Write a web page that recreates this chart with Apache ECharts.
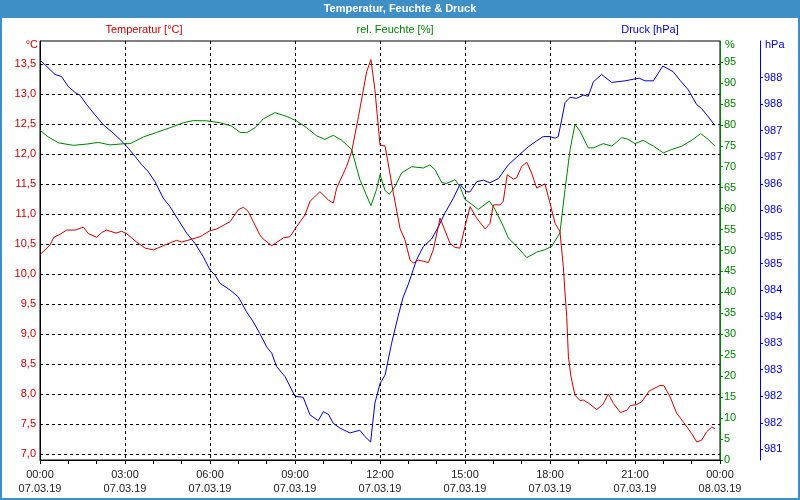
<!DOCTYPE html>
<html>
<head>
<meta charset="utf-8">
<script src="https://cdn.jsdelivr.net/npm/echarts@6/dist/echarts.min.js"></script>
<style>
html,body{margin:0;padding:0;background:#fff;}
#chart{width:800px;height:500px;}
</style>
</head>
<body>
<div id="chart"></div>
<script>
// ---- data ----
var xTimeLabels = ['00:00','03:00','06:00','09:00','12:00','15:00','18:00','21:00','00:00'];
var xDateLabels = ['07.03.19','07.03.19','07.03.19','07.03.19','07.03.19','07.03.19','07.03.19','07.03.19','08.03.19'];
var tempTicks = [7.0,7.5,8.0,8.5,9.0,9.5,10.0,10.5,11.0,11.5,12.0,12.5,13.0,13.5];
var pressTicks = [981,981.5,982,982.5,983,983.5,984,984.5,985,985.5,986,986.5,987,987.5,988];

var tempHours = [0,0.35,0.49,0.71,0.94,1.24,1.53,1.71,2.0,2.18,2.35,2.68,2.88,3.06,3.41,3.71,4.0,4.35,4.82,5.0,5.29,5.65,6.0,6.24,6.71,7.0,7.18,7.35,7.53,7.76,7.88,8.18,8.59,8.82,9.06,9.35,9.53,9.88,10.18,10.35,10.47,10.82,11.0,11.24,11.53,11.68,11.82,12.0,12.18,12.47,12.71,12.88,13.06,13.18,13.35,13.53,13.71,13.88,14.12,14.47,14.65,14.82,15.0,15.18,15.41,15.71,15.88,16.0,16.24,16.35,16.49,16.71,16.82,17.0,17.18,17.35,17.53,17.82,18.0,18.18,18.35,18.47,18.53,18.59,18.65,18.74,18.88,19.06,19.18,19.41,19.65,19.86,20.06,20.24,20.49,20.71,20.85,21.04,21.24,21.5,21.88,22.02,22.24,22.47,22.71,23.0,23.18,23.35,23.53,23.71,23.82];
var tempValues = [10.32,10.48,10.61,10.66,10.73,10.73,10.78,10.67,10.61,10.69,10.73,10.68,10.71,10.67,10.53,10.43,10.40,10.47,10.56,10.53,10.57,10.62,10.72,10.75,10.87,11.07,11.11,11.04,10.87,10.65,10.58,10.47,10.60,10.62,10.79,10.98,11.21,11.37,11.23,11.18,11.43,11.79,12.04,12.62,13.37,13.57,13.07,12.15,12.13,11.35,10.75,10.57,10.23,10.18,10.23,10.21,10.19,10.40,10.93,10.51,10.44,10.43,10.79,11.12,10.93,10.75,10.84,11.15,11.15,11.21,11.65,11.58,11.60,11.79,11.86,11.68,11.43,11.50,11.18,10.84,10.71,10.12,9.68,9.29,8.62,8.29,7.98,7.89,7.90,7.83,7.74,7.82,8.00,7.84,7.69,7.73,7.81,7.82,7.87,8.05,8.14,8.14,7.95,7.68,7.53,7.34,7.20,7.23,7.37,7.45,7.42];

var humHours = [0,0.29,0.65,1.18,1.65,2.06,2.47,3.0,3.18,3.65,4.12,4.59,5.06,5.41,5.88,6.35,6.76,7.06,7.29,7.59,7.88,8.29,8.71,9.06,9.41,9.76,10.06,10.35,10.65,11.0,11.29,11.68,11.88,12.0,12.18,12.33,12.53,12.76,13.12,13.53,13.76,13.94,14.18,14.35,14.65,14.82,15.0,15.24,15.47,15.86,16.06,16.35,16.53,16.82,17.18,17.53,17.82,18.06,18.35,18.53,18.71,18.88,19.06,19.35,19.53,19.88,20.18,20.53,20.71,21.0,21.29,21.65,22.0,22.29,22.65,23.0,23.32,23.59,23.82];
var humValues = [78.7,77.1,75.7,75.1,75.4,75.8,75.2,75.5,75.5,77.1,78.2,79.3,80.5,81.0,80.95,80.5,79.7,78.2,78.1,79.3,81.4,82.9,82.0,80.9,79.3,77.4,76.5,77.5,76.3,74.1,66.9,60.7,64.6,68.1,64.3,63.4,65.3,68.5,70.0,69.7,70.4,69.3,66.2,66.0,66.9,65.3,62.2,61.0,59.8,61.8,59.8,55.8,53.0,51.0,48.3,49.6,50.2,51.0,54.2,64.6,74.1,80.1,78.5,74.5,74.5,75.5,74.9,76.9,76.7,75.5,76.3,74.9,73.3,74.1,74.9,76.3,77.9,76.5,74.9];

var pressHours = [0,0.24,0.53,0.76,1.0,1.24,1.41,1.65,1.94,2.24,2.53,2.82,3.12,3.35,3.59,3.82,4.06,4.35,4.59,4.88,5.18,5.47,5.76,6.0,6.18,6.35,6.71,7.0,7.29,7.53,7.76,8.0,8.18,8.35,8.65,9.0,9.29,9.53,9.82,10.0,10.18,10.35,10.59,10.94,11.29,11.47,11.67,11.82,12.0,12.18,12.41,12.65,12.82,13.0,13.29,13.53,13.82,14.06,14.29,14.59,14.82,15.06,15.18,15.41,15.65,15.88,16.18,16.53,16.82,17.24,17.53,17.76,18.0,18.18,18.29,18.41,18.53,18.71,18.94,19.18,19.35,19.53,19.82,20.18,20.65,20.94,21.15,21.35,21.65,21.98,22.35,22.59,22.88,23.18,23.35,23.59,23.82];
var pressValues = [988.33,988.21,988.06,988.02,987.83,987.72,987.67,987.49,987.30,987.11,986.98,986.84,986.67,986.52,986.36,986.23,986.04,985.73,985.57,985.32,985.07,984.88,984.63,984.38,984.28,984.13,984.00,983.87,983.59,983.40,983.18,982.93,982.81,982.56,982.37,982.00,981.98,981.65,981.54,981.71,981.66,981.49,981.40,981.31,981.36,981.24,981.14,981.87,982.24,982.40,983.00,983.53,983.87,984.11,984.57,984.82,984.96,985.19,985.45,985.73,985.99,985.85,985.85,986.04,986.07,986.02,986.10,986.36,986.50,986.70,986.81,986.89,986.89,986.86,986.89,987.20,987.53,987.63,987.61,987.67,987.65,987.92,988.06,987.91,987.94,987.97,987.99,987.94,987.94,988.22,988.11,987.95,987.77,987.49,987.42,987.26,987.10];

function zip(a, b) { return a.map(function (v, i) { return [v, b[i]]; }); }

var FONT = 'Liberation Sans';
var RED = '#cc0000', GREEN = '#008000', BLUE = '#0000cc', BAR = '#3d8fc6';
var dash = { color: '#000', type: [3, 3], width: 1 };

var chart = echarts.init(document.getElementById('chart'), null, { renderer: 'canvas' });
chart.setOption({
  animation: false,
  backgroundColor: '#ffffff',
  textStyle: { fontFamily: FONT },
  grid: { left: 40, right: 80, top: 41, bottom: 40, show: true, borderColor: '#000', borderWidth: 1, backgroundColor: 'transparent' },
  graphic: [
    { type: 'rect', z: 0, shape: { x: 0, y: 0, width: 800, height: 18 }, style: { fill: BAR } },
    { type: 'rect', z: 0, shape: { x: 1, y: 1, width: 798, height: 498 }, style: { fill: 'none', stroke: BAR, lineWidth: 2 } },
    { type: 'text', z: 10, x: 400, y: 9, style: { text: 'Temperatur, Feuchte & Druck', fill: '#fff', font: 'bold 11px ' + FONT, textAlign: 'center', textVerticalAlign: 'middle' } },
    { type: 'text', z: 10, x: 144, y: 30, style: { text: 'Temperatur [°C]', fill: RED, font: '11px ' + FONT, textAlign: 'center', textVerticalAlign: 'middle' } },
    { type: 'text', z: 10, x: 395, y: 30, style: { text: 'rel. Feuchte [%]', fill: GREEN, font: '11px ' + FONT, textAlign: 'center', textVerticalAlign: 'middle' } },
    { type: 'text', z: 10, x: 650, y: 30, style: { text: 'Druck [hPa]', fill: BLUE, font: '11px ' + FONT, textAlign: 'center', textVerticalAlign: 'middle' } },
    { type: 'text', z: 10, x: 38, y: 45, style: { text: '°C', fill: RED, font: '11px ' + FONT, textAlign: 'right', textVerticalAlign: 'middle' } },
    { type: 'text', z: 10, x: 725, y: 45, style: { text: '%', fill: GREEN, font: '11px ' + FONT, textAlign: 'left', textVerticalAlign: 'middle' } },
    { type: 'text', z: 10, x: 765, y: 45, style: { text: 'hPa', fill: BLUE, font: '11px ' + FONT, textAlign: 'left', textVerticalAlign: 'middle' } }
  ],
  xAxis: {
    type: 'value', min: 0, max: 24, interval: 3,
    axisLine: { lineStyle: { color: '#000', width: 1 } },
    axisTick: { show: true, length: 4, lineStyle: { color: '#000' } },
    minorTick: { show: true, splitNumber: 3, length: 4, lineStyle: { color: '#000' } },
    splitLine: { show: true, lineStyle: dash },
    axisLabel: {
      color: '#222', fontSize: 11, fontFamily: FONT, margin: 8, lineHeight: 14,
      formatter: function (v) { var i = Math.round(v / 3); return xTimeLabels[i] + '\n' + xDateLabels[i]; }
    }
  },
  yAxis: [
    {
      type: 'value', min: 6.9, max: 13.88, position: 'left',
      axisLine: { show: true, lineStyle: { color: '#000' } },
      axisTick: { show: false, customValues: tempTicks },
      splitLine: { show: true, lineStyle: dash },
      axisLabel: { customValues: tempTicks, color: RED, fontSize: 11, fontFamily: FONT, margin: 4,
        formatter: function (v) { return v.toFixed(1).replace('.', ','); } }
    },
    {
      type: 'value', min: 0, max: 100, interval: 5, position: 'right',
      axisLine: { show: true, lineStyle: { color: GREEN, width: 1 } },
      axisTick: { show: true, length: 3, lineStyle: { color: GREEN } },
      splitLine: { show: false },
      axisLabel: { color: GREEN, fontSize: 11, fontFamily: FONT, margin: 4, showMaxLabel: false,
        formatter: function (v) { return v === 100 ? '' : String(v); } }
    },
    {
      type: 'value', min: 980.8, max: 988.69, position: 'right', offset: 40,
      axisLine: { show: true, lineStyle: { color: BLUE, width: 1 } },
      axisTick: { show: true, length: 3, customValues: pressTicks, lineStyle: { color: BLUE } },
      splitLine: { show: false },
      axisLabel: { customValues: pressTicks, color: BLUE, fontSize: 11, fontFamily: FONT, margin: 4,
        formatter: function (v) { return String(Math.round(v)); } }
    }
  ],
  series: [
    { name: 'Druck [hPa]', type: 'line', yAxisIndex: 2, data: zip(pressHours, pressValues), showSymbol: false, lineStyle: { color: BLUE, width: 1 }, itemStyle: { color: BLUE } },
    { name: 'rel. Feuchte [%]', type: 'line', yAxisIndex: 1, data: zip(humHours, humValues), showSymbol: false, lineStyle: { color: GREEN, width: 1 }, itemStyle: { color: GREEN } },
    { name: 'Temperatur [°C]', type: 'line', yAxisIndex: 0, data: zip(tempHours, tempValues), showSymbol: false, lineStyle: { color: RED, width: 1 }, itemStyle: { color: RED } }
  ]
});
</script>
</body>
</html>
